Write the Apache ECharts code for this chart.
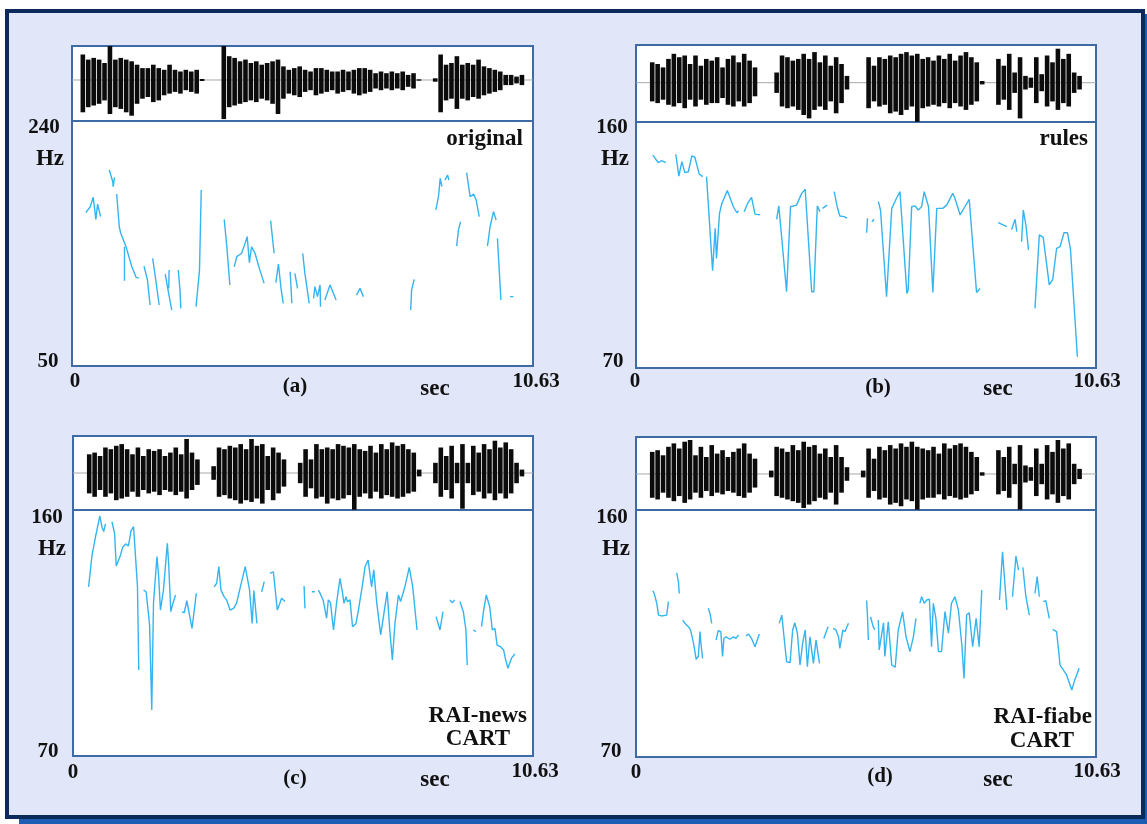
<!DOCTYPE html>
<html><head><meta charset="utf-8">
<script src="https://cdn.jsdelivr.net/npm/echarts@6/dist/echarts.min.js"></script>
<style>
html,body{margin:0;padding:0;background:#fff;width:1147px;height:824px;overflow:hidden}
#frame{position:absolute;left:5px;top:9px;width:1132px;height:802px;border:4px solid #0b2a5b;background:#e1e6f8;box-shadow:14px 5px 0 0 #1d5db3}
#chart{position:absolute;left:0;top:0;width:1147px;height:824px}
</style></head>
<body><div id="frame"></div><div id="chart"></div>
<script>
// ---------- data ----------
const xMax = 10.63;            // seconds
const waveStep = 0.125;        // seconds between waveform envelope samples
const xTickLabels = ['0', '10.63'];
const yTickA = ['240', '50'];
const yTickB = ['160', '70'];
const yTickC = ['160', '70'];
const yTickD = ['160', '70'];
const yRangeA = [50, 240];
const yRangeB = [70, 160];
const yRangeC = [70, 160];
const yRangeD = [70, 160];
const panelTags = ['(a)', '(b)', '(c)', '(d)'];
const unitX = 'sec', unitY = 'Hz';
const captionA = ['original'];
const captionB = ['rules'];
const captionC = ['RAI-news', 'CART'];
const captionD = ['RAI-fiabe', 'CART'];

// waveform envelopes (upper / lower amplitude), one value every 0.125 s
const waveTopA = [0,0,0.75,0.6,0.65,0.6,0.5,1.0,0.6,0.65, 0.6,0.55,0.45,0.35,0.35,0.45,0.35,0.3,0.45,0.3, 0.25,0.3,0.25,0.3,0.03,0,0,0,1.0,0.7, 0.65,0.55,0.6,0.5,0.55,0.45,0.5,0.55,0.6,0.4, 0.3,0.35,0.4,0.3,0.25,0.35,0.35,0.3,0.25,0.25, 0.3,0.25,0.3,0.35,0.35,0.3,0.2,0.25,0.2,0.25, 0.2,0.25,0.15,0.2,0.02,0,0,0.05,0.75,0.45, 0.5,0.7,0.45,0.5,0.45,0.6,0.4,0.35,0.3,0.25, 0.15,0.15,0.1,0.15,0,0];
const waveBotA = [0,0,0.95,0.8,0.75,0.7,0.6,1.0,0.8,0.85, 0.95,1.05,0.7,0.55,0.5,0.65,0.6,0.45,0.4,0.35, 0.4,0.3,0.35,0.4,0.03,0,0,0,1.15,0.8, 0.75,0.7,0.65,0.6,0.65,0.55,0.6,0.7,1.0,0.55, 0.4,0.45,0.5,0.35,0.3,0.45,0.4,0.35,0.3,0.4, 0.35,0.3,0.4,0.45,0.4,0.35,0.25,0.3,0.25,0.3, 0.25,0.3,0.2,0.25,0.02,0,0,0.05,0.95,0.6, 0.55,0.85,0.55,0.6,0.5,0.55,0.45,0.4,0.35,0.3, 0.15,0.15,0.1,0.15,0,0];
const waveTopB = [0,0,0,0.6,0.55,0.45,0.7,0.85,0.75,0.8, 0.55,0.8,0.5,0.7,0.65,0.75,0.45,0.7,0.8,0.6, 0.85,0.65,0.45,0,0,0,0.3,0.8,0.75,0.65, 0.7,0.85,0.7,0.9,0.6,0.8,0.5,0.75,0.55,0.2, 0,0,0,0.75,0.5,0.75,0.7,0.8,0.75,0.85, 0.9,0.8,0.85,0.7,0.75,0.65,0.8,0.7,0.85,0.65, 0.8,0.9,0.75,0.6,0.05,0,0,0.7,0.5,0.85, 0.3,0.75,0.2,0.15,0.75,0.25,0.8,0.6,1.0,0.7, 0.85,0.3,0.2,0,0,0];
const waveBotB = [0,0,0,0.55,0.6,0.5,0.65,0.7,0.6,0.75, 0.5,0.7,0.5,0.65,0.6,0.6,0.45,0.65,0.7,0.55, 0.7,0.6,0.4,0,0,0,0.3,0.7,0.75,0.7, 0.8,0.95,1.05,0.8,0.7,0.8,0.55,0.9,0.6,0.2, 0,0,0,0.75,0.55,0.7,0.65,0.9,0.85,0.95, 0.8,0.7,1.15,0.75,0.7,0.65,0.7,0.6,0.75,0.6, 0.7,0.8,0.65,0.55,0.05,0,0,0.65,0.5,0.8, 0.3,1.05,0.2,0.15,0.6,0.25,0.7,0.55,0.8,0.6, 0.7,0.3,0.2,0,0,0];
const waveTopC = [0,0,0,0.55,0.6,0.5,0.75,0.7,0.8,0.85, 0.7,0.55,0.75,0.5,0.7,0.65,0.7,0.5,0.6,0.75, 0.55,1.0,0.6,0.4,0,0,0.2,0.75,0.7,0.8, 0.75,0.85,0.7,1.0,0.8,0.85,0.5,0.75,0.6,0.4, 0,0,0.3,0.7,0.4,0.85,0.7,0.75,0.7,0.85, 0.8,0.75,0.85,0.7,0.65,0.8,0.6,0.85,0.7,0.9, 0.8,0.85,0.7,0.6,0.1,0,0,0.3,0.75,0.5, 0.8,0.3,0.85,0.3,0.8,0.6,0.85,0.7,0.95,0.75, 0.9,0.7,0.3,0.1,0,0];
const waveBotC = [0,0,0,0.6,0.7,0.5,0.7,0.6,0.8,0.75, 0.7,0.55,0.7,0.5,0.6,0.55,0.65,0.5,0.55,0.65, 0.55,0.75,0.5,0.35,0,0,0.2,0.7,0.65,0.75, 0.8,0.9,0.8,0.85,0.75,0.9,0.5,0.8,0.6,0.4, 0,0,0.3,0.7,0.45,0.75,0.7,0.9,0.75,0.8, 0.75,0.65,1.08,0.7,0.6,0.75,0.55,0.75,0.65,0.7, 0.75,0.7,0.6,0.55,0.1,0,0,0.3,0.7,0.5, 0.75,0.3,1.05,0.3,0.65,0.55,0.75,0.6,0.8,0.6, 0.75,0.6,0.3,0.1,0,0];
const waveTopD = [0,0,0,0.65,0.7,0.55,0.8,0.9,0.75,0.95, 1.0,0.55,0.8,0.5,0.85,0.6,0.7,0.5,0.65,0.75, 0.9,0.6,0.45,0,0,0.1,0.8,0.75,0.65,0.85, 0.7,0.95,0.8,0.85,0.6,0.75,0.5,0.85,0.5,0.2, 0,0,0.1,0.75,0.45,0.8,0.7,0.85,0.75,0.9, 0.8,0.95,0.8,0.75,0.7,0.8,0.6,0.9,0.75,0.85, 0.9,0.8,0.65,0.5,0.05,0,0,0.7,0.5,0.8, 0.3,0.85,0.25,0.2,0.75,0.3,0.85,0.65,1.0,0.75, 0.9,0.3,0.15,0,0,0];
const waveBotD = [0,0,0,0.7,0.75,0.55,0.7,0.8,0.65,0.85, 0.75,0.55,0.7,0.5,0.65,0.55,0.6,0.5,0.55,0.65, 0.7,0.55,0.4,0,0,0.1,0.65,0.7,0.75,0.8, 0.85,1.0,0.9,0.8,0.7,0.75,0.55,0.9,0.55,0.2, 0,0,0.1,0.7,0.5,0.75,0.7,0.9,0.85,0.95, 0.75,0.8,1.05,0.75,0.7,0.7,0.6,0.75,0.65,0.7, 0.75,0.7,0.6,0.5,0.05,0,0,0.6,0.5,0.7, 0.3,1.05,0.25,0.2,0.65,0.3,0.75,0.6,0.85,0.65, 0.75,0.3,0.15,0,0,0];

// pitch contours: voiced segments of [sec, Hz]
const pitchA = [
 [[0.32,168.9],[0.42,173.5],[0.49,180.8],[0.55,163.7],[0.59,175.6],[0.66,165.8]],
 [[0.86,202.0],[0.94,192.9],[0.95,189.1],[0.98,196.3]],
 [[1.03,183.4],[1.09,158.0],[1.12,153.4],[1.25,142.0],[1.38,127.0],[1.48,118.7],[1.54,118.2]],
 [[1.21,142.5],[1.21,116.2]],
 [[1.66,127.5],[1.74,116.7],[1.80,97.3]],
 [[1.86,133.5],[1.91,121.8],[2.01,97.3]],
 [[2.15,121.3],[2.20,111.5],[2.30,93.4]],
 [[2.24,124.4],[2.23,110.2]],
 [[2.45,124.4],[2.49,108.9],[2.51,94.7]],
 [[2.86,96.0],[2.94,124.4],[2.98,186.5]],
 [[3.51,163.7],[3.57,142.5],[3.64,112.8]],
 [[3.74,127.0],[3.80,134.8],[3.91,137.4],[3.99,145.1],[4.04,150.3],[4.09,130.1],[4.14,142.5],[4.22,137.4],[4.32,125.7],[4.43,114.1]],
 [[4.58,162.7],[4.66,137.4]],
 [[4.70,114.6],[4.76,129.1],[4.82,110.2],[4.87,98.6]],
 [[5.03,123.1],[5.07,98.6]],
 [[5.14,121.8],[5.20,110.2]],
 [[5.32,137.4],[5.37,121.8],[5.47,98.6]],
 [[5.57,102.5],[5.60,111.5],[5.66,103.8],[5.72,112.8],[5.73,96.0]],
 [[5.83,101.2],[5.95,112.8],[6.09,101.2]],
 [[6.56,105.0],[6.64,110.2],[6.72,103.8]],
 [[7.81,93.4],[7.83,108.9],[7.89,117.2]],
 [[8.39,171.0],[8.45,181.3],[8.49,195.5],[8.53,189.1]],
 [[8.60,194.2],[8.66,198.1],[8.69,194.2]],
 [[9.10,199.9],[9.18,181.3],[9.26,183.4],[9.32,178.7],[9.39,165.8]],
 [[8.87,143.0],[8.91,155.5],[8.96,161.9]],
 [[9.58,143.0],[9.64,158.0],[9.72,169.7],[9.78,163.2]],
 [[9.81,149.0],[9.89,101.2]],
 [[10.10,103.8],[10.18,103.8]]
];
const pitchB = [
 [[0.39,147.9],[0.46,146.3],[0.52,145.1],[0.59,145.9],[0.69,145.1]],
 [[0.92,148.2],[0.99,140.2],[1.06,145.5],[1.13,141.5],[1.21,141.8],[1.29,147.6],[1.36,147.1],[1.46,141.0],[1.54,140.0]],
 [[1.63,140.0],[1.77,105.6],[1.83,121.1],[1.86,110.1],[1.93,126.6],[1.98,130.0],[2.11,134.9],[2.25,129.0],[2.33,126.8],[2.37,127.6]],
 [[2.50,127.2],[2.58,130.2],[2.67,132.4],[2.75,126.3],[2.87,126.0]],
 [[3.25,124.4],[3.30,129.3],[3.48,97.9],[3.57,129.0],[3.71,129.6],[3.83,133.9],[3.91,135.4],[4.06,97.9],[4.11,97.9],[4.19,129.3],[4.25,127.2]],
 [[4.31,128.4],[4.42,129.6]],
 [[4.58,134.5],[4.65,129.0],[4.71,125.6],[4.81,125.4],[4.88,124.8]],
 [[5.33,119.5],[5.35,124.8]],
 [[5.45,123.5],[5.50,124.4]],
 [[5.60,130.9],[5.65,127.8],[5.79,96.1],[5.91,128.4],[6.02,132.1],[6.10,134.5],[6.14,133.9],[6.26,97.3],[6.29,98.5],[6.37,129.0],[6.45,129.3],[6.52,127.8],[6.60,129.0],[6.66,134.5],[6.70,134.1],[6.76,129.0],[6.86,97.6],[6.89,97.9],[6.95,128.4],[7.09,128.4],[7.18,129.6],[7.32,133.9],[7.37,132.1],[7.49,126.0],[7.60,129.0],[7.70,131.7],[7.87,97.6],[7.95,99.1]],
 [[8.37,123.2],[8.57,121.7]],
 [[8.68,120.7],[8.76,124.4],[8.80,119.9]],
 [[8.91,116.2],[8.95,127.8],[9.01,122.3],[9.07,113.2]],
 [[9.22,91.8],[9.32,118.7],[9.41,117.8],[9.55,100.4],[9.63,102.4],[9.72,113.8],[9.80,114.4],[9.89,119.5],[9.97,119.5],[10.04,113.4],[10.12,93.7],[10.20,74.1]]
];
const pitchC = [
 [[0.36,131.9],[0.44,143.5],[0.52,150.2],[0.62,157.8],[0.67,153.7],[0.71,152.1],[0.75,154.9]],
 [[0.90,155.7],[0.96,151.5],[1.00,139.5],[1.09,143.2],[1.15,146.4],[1.22,147.6],[1.28,146.8],[1.34,152.4],[1.40,153.9],[1.49,131.9],[1.52,101.5]],
 [[1.63,130.7],[1.69,130.1],[1.77,117.9],[1.82,86.8],[1.86,125.9],[1.94,143.0],[1.98,135.6],[2.02,123.4],[2.09,130.7],[2.18,147.8],[2.21,140.5],[2.26,122.8],[2.31,125.9],[2.37,128.9]],
 [[2.52,122.8],[2.57,122.4],[2.63,126.8],[2.67,126.5],[2.75,116.7],[2.85,129.5]],
 [[3.26,131.9],[3.32,133.2],[3.37,139.3],[3.42,130.7],[3.49,128.3],[3.55,127.1],[3.63,123.4],[3.71,124.0],[3.78,125.9],[3.86,131.3],[3.98,139.3],[4.08,130.7],[4.14,118.5],[4.18,130.5],[4.25,118.5]],
 [[4.36,130.1],[4.42,133.8]],
 [[4.55,136.8],[4.63,137.4],[4.67,131.3],[4.72,123.4],[4.78,125.9],[4.82,127.7],[4.90,126.5]],
 [[5.34,132.2],[5.36,124.0]],
 [[5.52,130.1],[5.59,130.1]],
 [[5.67,130.7],[5.71,129.5],[5.78,127.1],[5.86,120.4],[5.90,127.1],[5.95,126.1],[6.02,116.1],[6.09,125.9],[6.17,135.0],[6.23,129.5],[6.26,125.9],[6.31,128.3],[6.34,126.5],[6.40,127.1],[6.46,117.3],[6.54,118.5],[6.59,122.8],[6.67,130.7],[6.75,139.3],[6.82,141.7],[6.90,131.9],[6.95,138.1],[7.02,125.9],[7.11,114.3],[7.18,121.6],[7.26,130.1],[7.32,116.1],[7.38,105.1],[7.44,118.5],[7.52,128.9],[7.57,126.5],[7.67,131.9],[7.77,139.0],[7.85,131.9],[7.95,116.1]],
 [[8.39,121.0],[8.48,116.1],[8.55,122.8]],
 [[8.71,127.1],[8.77,126.1],[8.82,127.1]],
 [[8.94,126.5],[9.02,122.8],[9.08,116.1],[9.11,103.3]],
 [[9.25,116.1],[9.31,115.5]],
 [[9.44,117.3],[9.49,123.4],[9.55,128.9],[9.63,124.6],[9.69,116.1],[9.75,116.7],[9.80,110.6],[9.88,110.0],[9.95,108.8],[10.00,105.1],[10.05,102.1],[10.13,105.7],[10.21,107.3]]
];
const pitchD = [
 [[0.39,130.6],[0.42,129.6],[0.48,126.0],[0.52,121.7],[0.59,121.4],[0.71,121.7],[0.75,126.6]],
 [[0.94,137.1],[0.98,133.9],[1.00,129.6]],
 [[1.08,119.9],[1.13,118.7],[1.21,117.5],[1.26,116.3],[1.33,111.4],[1.39,105.6],[1.44,106.6],[1.48,115.7],[1.50,111.4],[1.54,105.9]],
 [[1.67,124.2],[1.71,122.3],[1.75,118.7]],
 [[1.85,112.6],[1.90,116.0],[1.96,115.7],[2.00,106.6],[2.03,113.2],[2.08,113.8],[2.17,112.9],[2.25,113.8],[2.31,113.2],[2.37,114.5]],
 [[2.54,114.1],[2.60,114.8],[2.67,113.2],[2.75,110.2],[2.85,114.8]],
 [[3.31,118.7],[3.37,121.7],[3.42,113.8],[3.48,104.7],[3.56,104.4],[3.62,116.3],[3.67,118.9],[3.73,115.1],[3.79,103.5],[3.85,111.4],[3.91,116.3],[3.96,102.9],[4.02,113.8],[4.10,104.1],[4.16,112.6],[4.24,104.1]],
 [[4.34,113.2],[4.41,116.3],[4.44,117.5]],
 [[4.56,116.9],[4.62,116.3],[4.68,113.8],[4.71,109.6],[4.78,116.3],[4.83,115.7],[4.91,118.7]],
 [[5.33,127.0],[5.35,121.1],[5.37,112.6]],
 [[5.42,121.1],[5.48,117.5],[5.52,116.3]],
 [[5.60,119.9],[5.62,109.0],[5.72,118.9],[5.75,106.6],[5.83,119.3],[5.91,103.5],[5.99,102.7],[6.06,116.3],[6.16,122.9],[6.24,113.8],[6.33,108.4],[6.41,113.8],[6.47,120.5]],
 [[6.56,126.0],[6.60,128.4],[6.66,126.0],[6.72,127.2],[6.78,127.5],[6.83,110.2],[6.87,126.0],[6.93,120.5],[6.99,108.4],[7.06,108.4],[7.14,123.0],[7.22,115.1],[7.29,126.0],[7.37,128.4],[7.45,123.6],[7.53,110.8],[7.58,98.6],[7.64,121.7],[7.70,122.6],[7.78,110.2],[7.86,120.5],[7.93,110.2],[7.99,130.8]],
 [[8.40,127.2],[8.47,144.8],[8.57,123.6]],
 [[8.70,128.4],[8.78,143.2],[8.84,138.1]],
 [[8.94,139.1],[9.01,128.4],[9.09,121.7]],
 [[9.22,129.6],[9.27,135.7],[9.32,128.4]],
 [[9.41,126.6],[9.47,127.0],[9.55,120.5]],
 [[9.63,116.5],[9.72,115.7],[9.80,103.5],[9.95,99.9],[10.07,94.4],[10.14,98.1],[10.24,102.3]]
];

// ---------- layout / style ----------
const panels = [
 {wave:{left:72,top:46,width:461,height:75}, wy:[-1.206,1.0], pitch:{left:72,top:121,width:461,height:245},
  yr:yRangeA, yt:yTickA, top:waveTopA, bot:waveBotA, f0:pitchA, cap:captionA,
  lab:{yTop:[44,128], hz:[50,159], yBot:[48,362], x0:[75,382], tag:[295,387], sec:[435,389], xEnd:[536,382]},
  capPos:[[523,139,'right']]},
 {wave:{left:636,top:45,width:460,height:77}, wy:[-1.156,1.109], pitch:{left:636,top:122,width:460,height:246},
  yr:yRangeB, yt:yTickB, top:waveTopB, bot:waveBotB, f0:pitchB, cap:captionB,
  lab:{yTop:[612,128], hz:[615,159], yBot:[613,362], x0:[635,382], tag:[878,388], sec:[998,389], xEnd:[1097,382]},
  capPos:[[1088,139,'right']]},
 {wave:{left:73,top:436,width:460,height:74}, wy:[-1.088,1.088], pitch:{left:73,top:510,width:460,height:246},
  yr:yRangeC, yt:yTickC, top:waveTopC, bot:waveBotC, f0:pitchC, cap:captionC,
  lab:{yTop:[47,518], hz:[52,549], yBot:[48,752], x0:[73,773], tag:[295,779], sec:[435,780], xEnd:[535,772]},
  capPos:[[527,716,'right'],[478,739,'center']]},
 {wave:{left:636,top:437,width:460,height:73}, wy:[-1.06,1.088], pitch:{left:636,top:510,width:460,height:247},
  yr:yRangeD, yt:yTickD, top:waveTopD, bot:waveBotD, f0:pitchD, cap:captionD,
  lab:{yTop:[612,518], hz:[616,549], yBot:[611,752], x0:[636,773], tag:[880,777], sec:[998,780], xEnd:[1097,772]},
  capPos:[[1092,717,'right'],[1042,741,'center']]}
];

const FONT = '"Liberation Serif","Times New Roman",serif';
const boxColor = '#3e6aa6';
const pitchColor = '#34b4f0';

const grids = [], xAxes = [], yAxes = [], series = [], texts = [];
function txt(s, x, y, size, align) {
  return {type:'text', x:x, y:y, z:100, silent:true,
    style:{text:s, font:'bold ' + size + 'px ' + FONT, fill:'#111', textAlign:align || 'center', textVerticalAlign:'middle'}};
}

panels.forEach(function(p, k) {
  const gw = k * 2, gp = k * 2 + 1;
  grids.push(Object.assign({show:true, backgroundColor:'#fff', borderColor:boxColor, borderWidth:2, containLabel:false}, p.wave));
  grids.push(Object.assign({show:true, backgroundColor:'#fff', borderColor:boxColor, borderWidth:2, containLabel:false}, p.pitch));
  xAxes.push({type:'value', gridIndex:gw, min:0, max:xMax, show:false});
  xAxes.push({type:'value', gridIndex:gp, min:0, max:xMax, show:false});
  yAxes.push({type:'value', gridIndex:gw, min:p.wy[0], max:p.wy[1], show:false});
  yAxes.push({type:'value', gridIndex:gp, min:p.yr[0], max:p.yr[1], show:false});

  // zero line of the waveform
  series.push({type:'line', xAxisIndex:gw, yAxisIndex:gw, data:[[0,0],[xMax,0]], symbol:'none', silent:true, z:1,
    lineStyle:{color:'#a8a8a8', width:1}});
  // waveform envelope
  const wdata = p.top.map(function(v, i){ return [i * waveStep, v, p.bot[i]]; });
  series.push({type:'custom', xAxisIndex:gw, yAxisIndex:gw, data:wdata, z:2, silent:true, clip:true,
    encode:{x:0, y:1},
    renderItem:function(params, api){
      const t = api.value(0), up = api.value(1), dn = api.value(2);
      if (!(up > 0 || dn > 0)) return null;
      const p1 = api.coord([t, up]), p2 = api.coord([t, -dn]);
      return {type:'rect', shape:{x:p1[0] - 2.3, y:p1[1], width:4.6, height:Math.max(1, p2[1] - p1[1])},
        style:{fill:'#0b0b0b'}};
    }});
  // pitch contour
  const pdata = [];
  p.f0.forEach(function(seg, j){
    if (j > 0) pdata.push([seg[0][0], null]);
    seg.forEach(function(pt){ pdata.push(pt); });
  });
  series.push({type:'line', xAxisIndex:gp, yAxisIndex:gp, data:pdata, showSymbol:false, symbol:'none',
    connectNulls:false, clip:true, silent:true, z:3, lineStyle:{color:pitchColor, width:1.4}});

  // texts
  const L = p.lab;
  texts.push(txt(p.yt[0], L.yTop[0], L.yTop[1], 21));
  texts.push(txt(unitY, L.hz[0], L.hz[1], 23));
  texts.push(txt(p.yt[1], L.yBot[0], L.yBot[1], 21));
  texts.push(txt(xTickLabels[0], L.x0[0], L.x0[1], 21));
  texts.push(txt(panelTags[k], L.tag[0], L.tag[1], 21));
  texts.push(txt(unitX, L.sec[0], L.sec[1], 23));
  texts.push(txt(xTickLabels[1], L.xEnd[0], L.xEnd[1], 21));
  p.cap.forEach(function(c, j){
    const cp = p.capPos[j];
    texts.push(txt(c, cp[0], cp[1], 23, cp[2]));
  });
});

const chart = echarts.init(document.getElementById('chart'), null, {renderer:'canvas', width:1147, height:824});
chart.setOption({
  backgroundColor:'transparent',
  animation:false,
  grid:grids, xAxis:xAxes, yAxis:yAxes, series:series,
  graphic:{elements:texts}
});
</script></body></html>
